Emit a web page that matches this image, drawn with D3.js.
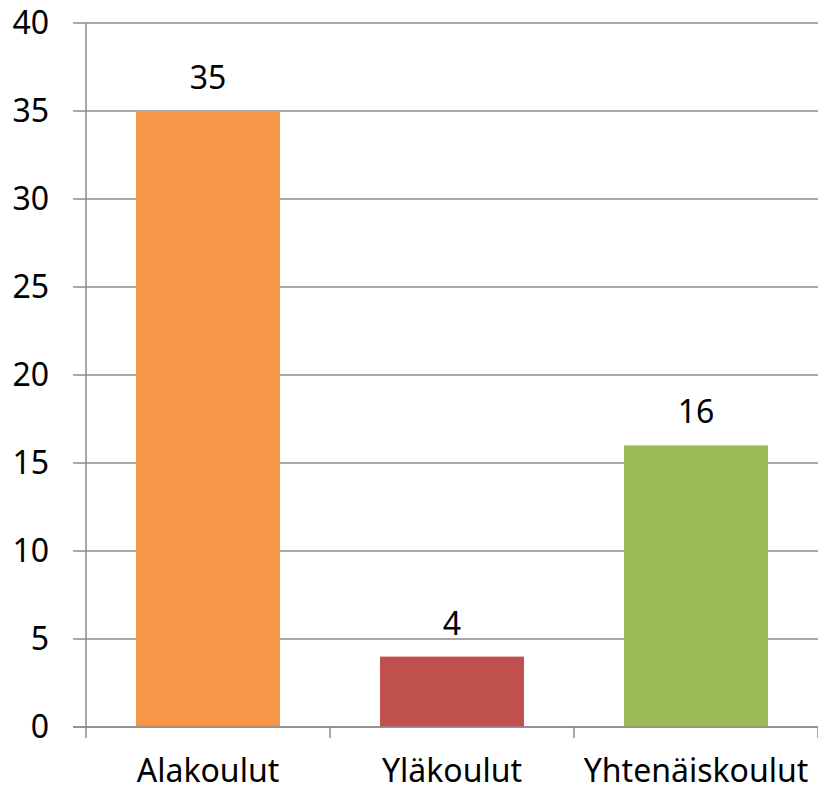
<!DOCTYPE html>
<html>
<head>
<meta charset="utf-8">
<script src="https://cdn.jsdelivr.net/npm/d3@7"></script>
<style>
  body { margin: 0; background: #fff; }
  text { font-family: "Noto Sans", Lato, sans-serif; fill: #000; }
</style>
</head>
<body>
<svg id="chart" width="818" height="790"></svg>
<script>
let categories = ["Alakoulut", "Yläkoulut", "Yhtenäiskoulut"];
let values = [35, 4, 16];
let colors = ["#F79646", "#C0504D", "#9BBB59"];
let yTicks = [0, 5, 10, 15, 20, 25, 30, 35, 40];

let data = categories.map((c, i) => ({name: c, value: values[i], color: colors[i]}));

let svg = d3.select("#chart");
let plotLeft = 86, plotRight = 818, plotTop = 23, plotBottom = 727;

let x = d3.scaleBand()
    .domain(categories)
    .range([plotLeft, plotRight])
    .paddingInner(0.41)
    .paddingOuter(0.205);

let y = d3.scaleLinear()
    .domain([0, 40])
    .range([plotBottom, plotTop]);

// gridlines
svg.append("g")
    .selectAll("line")
    .data(yTicks)
    .enter().append("line")
    .attr("x1", plotLeft - 13)
    .attr("x2", plotRight)
    .attr("y1", d => y(d))
    .attr("y2", d => y(d))
    .attr("stroke", "#8c8c8c")
    .attr("stroke-width", 1.5);

// y axis line
svg.append("line")
    .attr("x1", plotLeft).attr("x2", plotLeft)
    .attr("y1", plotTop).attr("y2", plotBottom)
    .attr("stroke", "#8c8c8c")
    .attr("stroke-width", 1.5);

// y labels
svg.append("g")
    .selectAll("text")
    .data(yTicks)
    .enter().append("text")
    .attr("x", 49)
    .attr("y", d => y(d) + 11)
    .attr("text-anchor", "end")
    .style("font-size", "32px")
    .text(d => d);

// bars
svg.append("g")
    .selectAll("rect")
    .data(data)
    .enter().append("rect")
    .attr("x", d => x(d.name))
    .attr("width", x.bandwidth())
    .attr("y", d => y(d.value))
    .attr("height", d => y(0) - y(d.value))
    .attr("fill", d => d.color);

// x axis baseline + ticks
svg.append("line")
    .attr("x1", plotLeft - 13).attr("x2", plotRight)
    .attr("y1", plotBottom).attr("y2", plotBottom)
    .attr("stroke", "#8c8c8c")
    .attr("stroke-width", 1.5);

let bounds = [plotLeft].concat(categories.map(c => x(c) + x.bandwidth() + x.step() * x.paddingInner() / 2));
svg.append("g")
    .selectAll("line")
    .data(bounds)
    .enter().append("line")
    .attr("x1", d => d).attr("x2", d => d)
    .attr("y1", plotBottom).attr("y2", plotBottom + 11)
    .attr("stroke", "#8c8c8c")
    .attr("stroke-width", 1.5);

// category labels
svg.append("g")
    .selectAll("text")
    .data(data)
    .enter().append("text")
    .attr("x", d => x(d.name) + x.bandwidth() / 2)
    .attr("y", 782)
    .attr("text-anchor", "middle")
    .style("font-size", "32px")
    .text(d => d.name);

// value labels
svg.append("g")
    .selectAll("text")
    .data(data)
    .enter().append("text")
    .attr("x", d => x(d.name) + x.bandwidth() / 2)
    .attr("y", d => y(d.value) - 22)
    .attr("text-anchor", "middle")
    .style("font-size", "32px")
    .text(d => d.value);
</script>
</body>
</html>
